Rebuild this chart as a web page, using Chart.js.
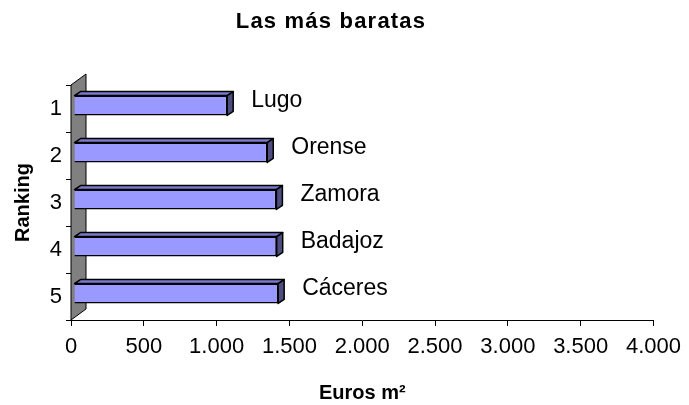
<!DOCTYPE html>
<html lang="es">
<head>
<meta charset="utf-8">
<title>Las más baratas</title>
<script src="https://cdn.jsdelivr.net/npm/chart.js@4.4.1/dist/chart.umd.min.js"></script>
<style>
  html, body { margin: 0; padding: 0; background: #fff; }
  #zone { position: relative; width: 689px; height: 405px; }
</style>
</head>
<body>
<div id="zone"><canvas id="graphique-baratas"></canvas></div>
<script>
/** Les données */
const ranking = ['1', '2', '3', '4', '5'];
const ciudades = ['Lugo', 'Orense', 'Zamora', 'Badajoz', 'Cáceres'];
const eurosM2 = [1052, 1327, 1390, 1392, 1402];
const ticksEuros = [0, 500, 1000, 1500, 2000, 2500, 3000, 3500, 4000];

const police = '"Liberation Sans", Arial, sans-serif';
const noir = '#000000';

/* Décalage 3D façon Excel */
const profondeurMur = { dx: 15, dy: -11 };
const profondeurBarre = { dx: 6, dy: -4 };
const decalageBarre = { dx: 3, dy: -3 };

const format = new Intl.NumberFormat('de-DE', { style: 'decimal' });

/**
 * Plugin : mur gris, faces 3D des barres, étiquettes et titre.
 */
const relief3d = {
  id: 'relief3d',
  beforeDatasetsDraw(chart) {
    const { ctx, chartArea } = chart;
    const { left, top, bottom } = chartArea;
    /** Le mur de gauche */
    ctx.save();
    ctx.beginPath();
    ctx.moveTo(left, top);
    ctx.lineTo(left + profondeurMur.dx, top + profondeurMur.dy);
    ctx.lineTo(left + profondeurMur.dx, bottom + profondeurMur.dy);
    ctx.lineTo(left, bottom);
    ctx.closePath();
    ctx.fillStyle = '#808080';
    ctx.fill();
    ctx.strokeStyle = noir;
    ctx.lineWidth = 1;
    ctx.stroke();
    ctx.restore();

    /** On décale les barres vers le fond */
    ctx.save();
    ctx.translate(decalageBarre.dx, decalageBarre.dy);
  },
  afterDatasetsDraw(chart) {
    const { ctx } = chart;
    const meta = chart.getDatasetMeta(0);
    const { dx, dy } = profondeurBarre;
    meta.data.forEach((barre, i) => {
      const haut = barre.y - barre.height / 2;
      const bas = barre.y + barre.height / 2;
      const gauche = barre.base;
      const droite = barre.x;
      ctx.lineWidth = 1.5;
      ctx.strokeStyle = noir;
      ctx.lineJoin = 'round';

      /* face du dessus */
      ctx.beginPath();
      ctx.moveTo(gauche, haut);
      ctx.lineTo(gauche + dx, haut + dy);
      ctx.lineTo(droite + dx, haut + dy);
      ctx.lineTo(droite, haut);
      ctx.closePath();
      ctx.fillStyle = '#7a7acc';
      ctx.fill();
      ctx.stroke();

      /* face de côté */
      ctx.beginPath();
      ctx.moveTo(droite, haut);
      ctx.lineTo(droite + dx, haut + dy);
      ctx.lineTo(droite + dx, bas + dy);
      ctx.lineTo(droite, bas);
      ctx.closePath();
      ctx.fillStyle = '#4d4d80';
      ctx.fill();
      ctx.stroke();

      /* étiquette de la ville */
      ctx.fillStyle = noir;
      ctx.font = `23px ${police}`;
      ctx.textAlign = 'left';
      ctx.textBaseline = 'middle';
      ctx.fillText(ciudades[i], droite + 24, barre.y - 5);
    });
    ctx.restore();
  },
  afterDraw(chart) {
    const { ctx } = chart;
    /** Le titre, un peu espacé comme dans Excel */
    ctx.save();
    ctx.font = `bold 22px ${police}`;
    ctx.letterSpacing = '1.2px';
    ctx.fillStyle = noir;
    ctx.textAlign = 'center';
    ctx.textBaseline = 'middle';
    ctx.fillText('Las más baratas', 331, 22);
    ctx.restore();
  }
};

const data = {
  labels: ranking,
  datasets: [{
    data: eurosM2,
    backgroundColor: '#9999ff',
    borderColor: noir,
    borderWidth: 1.5,
    barPercentage: 0.425,
    categoryPercentage: 1
  }]
};

const options = {
  indexAxis: 'y',
  responsive: true,
  maintainAspectRatio: false,
  animation: false,
  layout: { padding: { top: 85, right: 35, bottom: 0, left: 0 } },
  plugins: {
    legend: { display: false },
    title: { display: false },
    tooltip: { enabled: false }
  },
  scales: {
    x: {
      min: ticksEuros[0],
      max: ticksEuros[ticksEuros.length - 1],
      ticks: {
        stepSize: ticksEuros[1] - ticksEuros[0],
        color: noir,
        padding: 8,
        font: { family: police, size: 22 },
        callback: (v) => format.format(v)
      },
      grid: { drawOnChartArea: false, drawTicks: true, tickLength: 6, color: noir },
      border: { display: true, color: noir, width: 1 },
      title: {
        display: true,
        text: 'Euros m²',
        color: noir,
        font: { family: police, size: 20, weight: 'bold' },
        padding: { top: 0, bottom: 0 }
      },
      afterFit: (scale) => { scale.height = 85; }
    },
    y: {
      ticks: {
        color: noir,
        padding: 4,
        font: { family: police, size: 22 }
      },
      grid: { drawOnChartArea: false, drawTicks: true, tickLength: 5, color: noir, offset: true },
      border: { display: true, color: noir, width: 1 },
      title: {
        display: true,
        text: 'Ranking',
        color: noir,
        font: { family: police, size: 20, weight: 'bold' },
        padding: { top: 11, bottom: 0 }
      },
      afterFit: (scale) => { scale.width = 71; }
    }
  }
};

const ctx = document.getElementById('graphique-baratas').getContext('2d');
const graphique = new Chart(ctx, { type: 'bar', data, options, plugins: [relief3d] });
</script>
</body>
</html>
